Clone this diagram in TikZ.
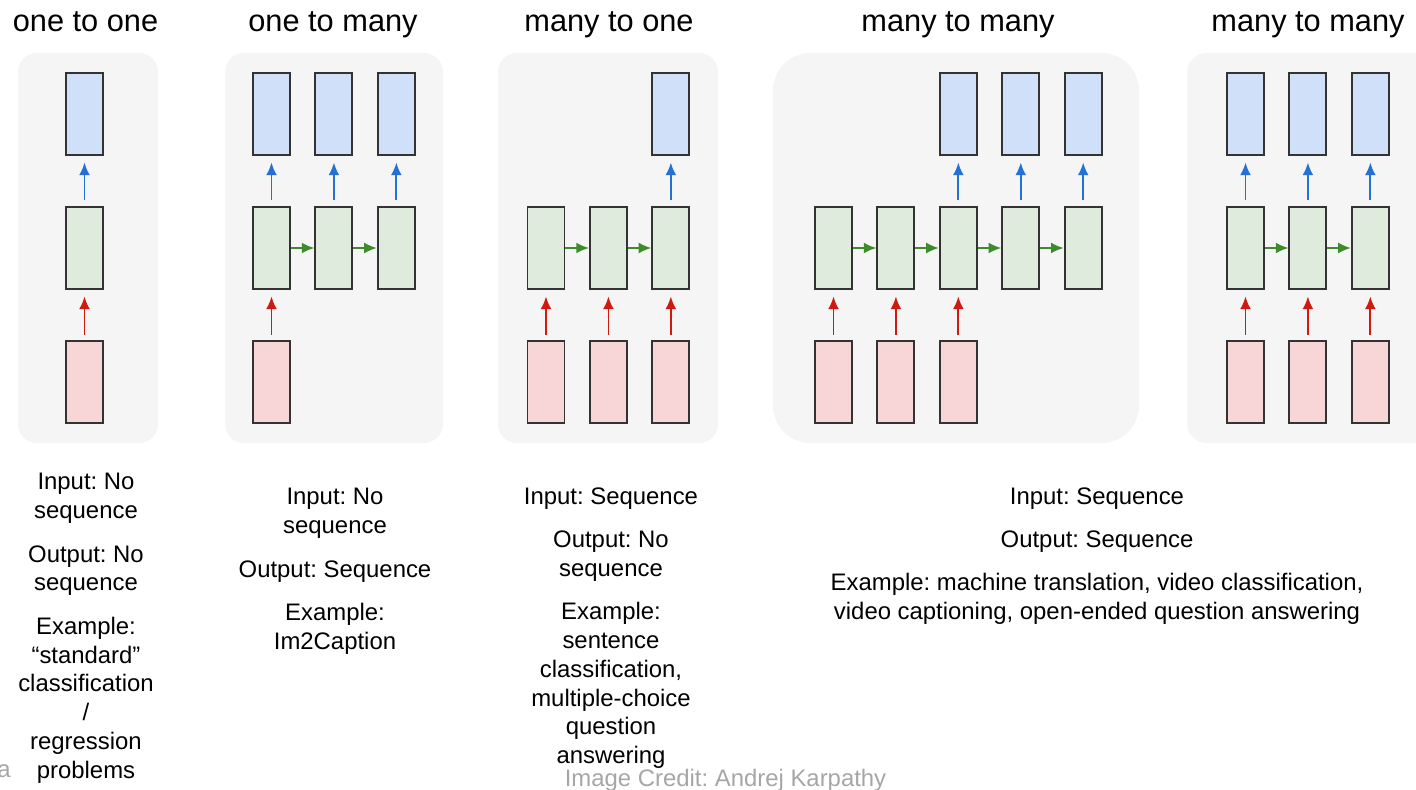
\documentclass[tikz,border=0pt]{standalone}
\usepackage{fontspec}
\setmainfont{Liberation Sans}
\usetikzlibrary{arrows.meta, positioning}

\definecolor{panelgray}{HTML}{F5F5F5}
\definecolor{outfill}{HTML}{D0E0F9}
\definecolor{hidfill}{HTML}{DFEBDC}
\definecolor{infill}{HTML}{F8D6D8}
\definecolor{outblue}{HTML}{2470D4}
\definecolor{hidgreen}{HTML}{3E8B2C}
\definecolor{inred}{HTML}{D0190F}
\definecolor{edgegray}{HTML}{333333}
\definecolor{creditgray}{HTML}{A6A6A6}

\begin{document}
\begin{tikzpicture}[x=0.02cm, y=-0.02cm, node distance=1cm and 0.47cm]
    \tikzstyle{panel} = [fill=panelgray, rounded corners=0.38cm]
    \tikzstyle{cell} = [rectangle, draw=edgegray, line width=1.1pt, minimum width=0.74cm, minimum height=1.64cm, inner sep=0pt]
    \tikzstyle{inbox} = [cell, fill=infill]
    \tikzstyle{hidbox} = [cell, fill=hidfill]
    \tikzstyle{outbox} = [cell, fill=outfill]
    \tikzstyle{arr} = [draw, line width=1.05pt, -{Latex[length=7.2pt, width=6.2pt]}]
    \tikzstyle{upin} = [arr, inred, shorten <=0.1cm, shorten >=0.13cm]
    \tikzstyle{upout} = [arr, outblue, shorten <=0.12cm, shorten >=0.13cm]
    \tikzstyle{recur} = [arr, hidgreen]
    \tikzstyle{heading} = [font=\fontsize{17.5}{21}\selectfont, inner sep=0pt, anchor=base]
    \tikzstyle{note} = [align=center, font=\fontsize{13.6}{16.4}\selectfont\frenchspacing, inner sep=0pt, anchor=north]

    \useasboundingbox (0,0) rectangle (1416,790);

    % grey backgrounds
    \path [panel] (18,53) rectangle (158,443);
    \path [panel] (225,53) rectangle (443,443);
    \path [panel] (498,53) rectangle (718,443);
    \path [panel, rounded corners=0.75cm] (773,53) rectangle (1139,443);
    \path [panel] (1187,53) rectangle (1450,443);

    % one to one
    \node [hidbox] (oo-h) at (84.5,248) {};
    \node [outbox, above=of oo-h] (oo-out) {};
    \node [inbox, below=of oo-h] (oo-in) {};

    % one to many
    \node [hidbox] (om-h1) at (271.5,248) {};
    \node [hidbox, right=of om-h1] (om-h2) {};
    \node [hidbox, right=of om-h2] (om-h3) {};
    \node [outbox, above=of om-h1] (om-out1) {};
    \node [outbox, above=of om-h2] (om-out2) {};
    \node [outbox, above=of om-h3] (om-out3) {};
    \node [inbox, below=of om-h1] (om-in1) {};

    % many to one
    \node [hidbox] (mo-h1) at (546,248) {};
    \node [hidbox, right=of mo-h1] (mo-h2) {};
    \node [hidbox, right=of mo-h2] (mo-h3) {};
    \node [outbox, above=of mo-h3] (mo-out3) {};
    \node [inbox, below=of mo-h1] (mo-in1) {};
    \node [inbox, below=of mo-h2] (mo-in2) {};
    \node [inbox, below=of mo-h3] (mo-in3) {};

    % many to many (delayed)
    \node [hidbox] (mm-h1) at (833.5,248) {};
    \node [hidbox, right=of mm-h1] (mm-h2) {};
    \node [hidbox, right=of mm-h2] (mm-h3) {};
    \node [hidbox, right=of mm-h3] (mm-h4) {};
    \node [hidbox, right=of mm-h4] (mm-h5) {};
    \node [outbox, above=of mm-h3] (mm-out3) {};
    \node [outbox, above=of mm-h4] (mm-out4) {};
    \node [outbox, above=of mm-h5] (mm-out5) {};
    \node [inbox, below=of mm-h1] (mm-in1) {};
    \node [inbox, below=of mm-h2] (mm-in2) {};
    \node [inbox, below=of mm-h3] (mm-in3) {};

    % many to many (synced)
    \node [hidbox] (sm-h1) at (1245.5,248) {};
    \node [hidbox, right=of sm-h1] (sm-h2) {};
    \node [hidbox, right=of sm-h2] (sm-h3) {};
    \node [outbox, above=of sm-h1] (sm-out1) {};
    \node [outbox, above=of sm-h2] (sm-out2) {};
    \node [outbox, above=of sm-h3] (sm-out3) {};
    \node [inbox, below=of sm-h1] (sm-in1) {};
    \node [inbox, below=of sm-h2] (sm-in2) {};
    \node [inbox, below=of sm-h3] (sm-in3) {};

    % arrows
    \path [upin] (oo-in) -- (oo-h);
    \path [upout] (oo-h) -- (oo-out);

    \path [upin] (om-in1) -- (om-h1);
    \path [recur] (om-h1) -- (om-h2);
    \path [recur] (om-h2) -- (om-h3);
    \path [upout] (om-h1) -- (om-out1);
    \path [upout] (om-h2) -- (om-out2);
    \path [upout] (om-h3) -- (om-out3);

    \path [upin] (mo-in1) -- (mo-h1);
    \path [upin] (mo-in2) -- (mo-h2);
    \path [upin] (mo-in3) -- (mo-h3);
    \path [recur] (mo-h1) -- (mo-h2);
    \path [recur] (mo-h2) -- (mo-h3);
    \path [upout] (mo-h3) -- (mo-out3);

    \path [upin] (mm-in1) -- (mm-h1);
    \path [upin] (mm-in2) -- (mm-h2);
    \path [upin] (mm-in3) -- (mm-h3);
    \path [recur] (mm-h1) -- (mm-h2);
    \path [recur] (mm-h2) -- (mm-h3);
    \path [recur] (mm-h3) -- (mm-h4);
    \path [recur] (mm-h4) -- (mm-h5);
    \path [upout] (mm-h3) -- (mm-out3);
    \path [upout] (mm-h4) -- (mm-out4);
    \path [upout] (mm-h5) -- (mm-out5);

    \path [upin] (sm-in1) -- (sm-h1);
    \path [upin] (sm-in2) -- (sm-h2);
    \path [upin] (sm-in3) -- (sm-h3);
    \path [recur] (sm-h1) -- (sm-h2);
    \path [recur] (sm-h2) -- (sm-h3);
    \path [upout] (sm-h1) -- (sm-out1);
    \path [upout] (sm-h2) -- (sm-out2);
    \path [upout] (sm-h3) -- (sm-out3);

    % titles
    \node [heading] (oo-title) at (85.5,32) {one to one};
    \node [heading] (om-title) at (333,32) {one to many};
    \node [heading] (mo-title) at (609,32) {many to one};
    \node [heading] (mm-title) at (958,32) {many to many};
    \node [heading] (sm-title) at (1308,32) {many to many};

    % descriptions
    \node [note] (oo-text) at (86,473) {Input: No\\ sequence\\[8.3pt] Output: No\\ sequence\\[8.3pt] Example:\\ “standard”\\ classification\\ /\\ regression\\ problems};
    \node [note] (om-text) at (335,488) {Input: No\\ sequence\\[8.3pt] Output: Sequence\\[8.3pt] Example:\\ Im2Caption};
    \node [note] (mo-text) at (611,487) {Input: Sequence\\[8.3pt] Output: No\\ sequence\\[8.3pt] Example:\\ sentence\\ classification,\\ multiple-choice\\ question\\ answering};
    \node [note] (mm-text) at (1097,487) {Input: Sequence\\[8.3pt] Output: Sequence\\[8.3pt] Example: machine translation, video classification,\\ video captioning, open-ended question answering};

    \node [note, text=creditgray, anchor=base] (credit) at (725.5,786) {Image Credit: Andrej Karpathy};
    \node [note, text=creditgray, anchor=base east] (stray) at (11,777) {a};
\end{tikzpicture}
\end{document}
